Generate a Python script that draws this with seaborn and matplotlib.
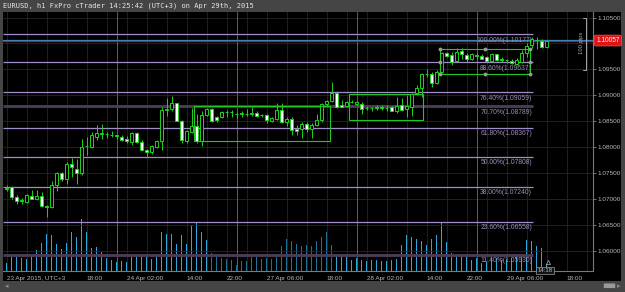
import numpy as np
import pandas as pd
import matplotlib
matplotlib.use("Agg")
import matplotlib.pyplot as plt
from matplotlib.patches import Rectangle, FancyBboxPatch
import seaborn as sns

# EURUSD h1 candles, 23 Apr 2015 02:00 -> 29 Apr 2015 14:00 (UTC+3)
opens = [1.0720, 1.0723, 1.0705, 1.0698, 1.0695, 1.0706, 1.0701, 1.0706, 1.0687, 1.0684,
         1.0727, 1.0750, 1.0738, 1.0768, 1.0759, 1.0750, 1.0802, 1.0800, 1.0820, 1.0825,
         1.0826, 1.0824, 1.0823, 1.0820, 1.0815, 1.0811, 1.0827, 1.0811, 1.0795, 1.0790,
         1.0801, 1.0812, 1.0872, 1.0874, 1.0885, 1.0851, 1.0812, 1.0830, 1.0841, 1.0812,
         1.0862, 1.0873, 1.0859, 1.0859, 1.0867, 1.0868, 1.0865, 1.0865, 1.0865, 1.0864,
         1.0866, 1.0862, 1.0862, 1.0851, 1.0854, 1.0872, 1.0848, 1.0854, 1.0836, 1.0836,
         1.0845, 1.0836, 1.0843, 1.0852, 1.0883, 1.0890, 1.0905, 1.0881, 1.0880, 1.0888,
         1.0883, 1.0884, 1.0876, 1.0875, 1.0876, 1.0877, 1.0876, 1.0878, 1.0870, 1.0881,
         1.0873, 1.0878, 1.0904, 1.0914, 1.0941, 1.0942, 1.0924, 1.0946, 1.0981, 1.0978,
         1.0966, 1.0985, 1.0978, 1.0971, 1.0977, 1.0976, 1.0974, 1.0966, 1.0979, 1.0971,
         1.0968, 1.0967, 1.0961, 1.0965, 1.0981, 1.0997, 1.1007, 1.1005, 1.0993]
highs = [1.0727, 1.0725, 1.0708, 1.0702, 1.0710, 1.0718, 1.0717, 1.0713, 1.0689, 1.0734,
         1.0753, 1.0753, 1.0772, 1.0780, 1.0777, 1.0815, 1.0820, 1.0830, 1.0843, 1.0844,
         1.0830, 1.0831, 1.0824, 1.0823, 1.0821, 1.0829, 1.0829, 1.0814, 1.0797, 1.0804,
         1.0814, 1.0878, 1.0895, 1.0899, 1.0886, 1.0852, 1.0833, 1.0875, 1.0865, 1.0869,
         1.0875, 1.0875, 1.0860, 1.0869, 1.0872, 1.0872, 1.0868, 1.0869, 1.0874, 1.0877,
         1.0869, 1.0865, 1.0865, 1.0859, 1.0885, 1.0885, 1.0858, 1.0858, 1.0843, 1.0849,
         1.0849, 1.0846, 1.0865, 1.0885, 1.0891, 1.0926, 1.0909, 1.0892, 1.0890, 1.0891,
         1.0890, 1.0888, 1.0879, 1.0878, 1.0881, 1.0881, 1.0881, 1.0879, 1.0897, 1.0894,
         1.0901, 1.0904, 1.0920, 1.0944, 1.0950, 1.0946, 1.0948, 1.0984, 1.0984, 1.0984,
         1.0991, 1.0991, 1.0981, 1.0981, 1.0981, 1.0979, 1.0976, 1.0981, 1.0980, 1.0974,
         1.0971, 1.0970, 1.0972, 1.0988, 1.1000, 1.1013, 1.1013, 1.1008, 1.1007]
lows = [1.0716, 1.0700, 1.0691, 1.0691, 1.0693, 1.0700, 1.0699, 1.0684, 1.0665, 1.0682,
        1.0716, 1.0734, 1.0730, 1.0742, 1.0730, 1.0746, 1.0785, 1.0798, 1.0814, 1.0816,
        1.0818, 1.0820, 1.0817, 1.0812, 1.0808, 1.0804, 1.0809, 1.0793, 1.0782, 1.0787,
        1.0799, 1.0795, 1.0861, 1.0869, 1.0850, 1.0808, 1.0809, 1.0827, 1.0808, 1.0803,
        1.0860, 1.0849, 1.0849, 1.0856, 1.0859, 1.0859, 1.0856, 1.0858, 1.0860, 1.0860,
        1.0859, 1.0859, 1.0846, 1.0849, 1.0852, 1.0847, 1.0840, 1.0824, 1.0824, 1.0817,
        1.0830, 1.0817, 1.0840, 1.0849, 1.0879, 1.0888, 1.0875, 1.0877, 1.0878, 1.0885,
        1.0880, 1.0865, 1.0872, 1.0869, 1.0872, 1.0872, 1.0869, 1.0869, 1.0866, 1.0869,
        1.0859, 1.0860, 1.0901, 1.0897, 1.0936, 1.0917, 1.0922, 1.0943, 1.0974, 1.0958,
        1.0965, 1.0971, 1.0965, 1.0968, 1.0971, 1.0970, 1.0965, 1.0965, 1.0966, 1.0965,
        1.0962, 1.0960, 1.0959, 1.0963, 1.0974, 1.0991, 1.0989, 1.0992, 1.0991]
closes = [1.0722, 1.0705, 1.0697, 1.0697, 1.0707, 1.0701, 1.0706, 1.0687, 1.0685, 1.0727,
          1.0751, 1.0738, 1.0768, 1.0761, 1.0750, 1.0801, 1.0802, 1.0824, 1.0827, 1.0827,
          1.0825, 1.0824, 1.0821, 1.0814, 1.0812, 1.0827, 1.0811, 1.0795, 1.0790, 1.0803,
          1.0812, 1.0872, 1.0874, 1.0885, 1.0851, 1.0814, 1.0832, 1.0840, 1.0812, 1.0862,
          1.0873, 1.0851, 1.0852, 1.0867, 1.0868, 1.0868, 1.0864, 1.0866, 1.0864, 1.0866,
          1.0861, 1.0862, 1.0852, 1.0856, 1.0872, 1.0849, 1.0854, 1.0833, 1.0832, 1.0845,
          1.0836, 1.0843, 1.0852, 1.0883, 1.0890, 1.0905, 1.0878, 1.0878, 1.0888, 1.0888,
          1.0888, 1.0874, 1.0876, 1.0875, 1.0877, 1.0876, 1.0875, 1.0870, 1.0880, 1.0872,
          1.0880, 1.0902, 1.0914, 1.0941, 1.0941, 1.0924, 1.0946, 1.0981, 1.0976, 1.0965,
          1.0984, 1.0979, 1.0971, 1.0979, 1.0976, 1.0971, 1.0966, 1.0979, 1.0968, 1.0968,
          1.0968, 1.0962, 1.0969, 1.0981, 1.0996, 1.1008, 1.1006, 1.0994, 1.10057]
volumes = [740, 1670, 1670, 1240, 1140, 1470, 2070, 2740, 3640, 3570,
           2640, 2170, 2770, 3900, 3400, 5150, 3900, 2300, 2400, 1900,
           1240, 1070, 900, 1000, 900, 1670, 1570, 1400, 1400, 1140,
           1640, 3900, 3640, 3700, 2670, 3570, 2670, 4570, 4840, 3900,
           3070, 1800, 1670, 1240, 1140, 1070, 570, 970, 970, 1470,
           1340, 1170, 1300, 1140, 1570, 2470, 3170, 2970, 2670, 2470,
           2570, 2440, 2940, 3340, 3900, 2570, 1670, 1440, 1420, 1070,
           1240, 1100, 970, 1100, 1040, 970, 970, 1070, 1140, 2570,
           3570, 3420, 3140, 3000, 2570, 3140, 3570, 4820, 2870, 1740,
           1640, 1570, 1470, 1070, 1240, 800, 900, 1240, 1300, 1070,
           1140, 1300, 1570, 1470, 3070, 2970, 2520, 2320, 670]

# time axis (bar index -> label)
tick_bars = [0, 16, 24, 36, 44, 52, 64, 72, 84, 92, 100, 112]
tick_labels = ["23 Apr 2015, UTC+3", "18:00", "24 Apr 02:00", "14:00", "22:00",
               "27 Apr 06:00", "18:00", "28 Apr 02:00", "14:00", "22:00",
               "29 Apr 06:00", "18:00"]
day_starts = [22, 46, 70, 94]

# fibonacci retracement levels
fib_pct = ["100.00%", "88.60%", "76.40%", "70.70%", "61.80%", "50.00%", "38.00%", "23.60%", "11.40%"]
fib_price = [1.10177, 1.09637, 1.09059, 1.08789, 1.08367, 1.07808, 1.07240, 1.06558, 1.05930]
fib_heavy = ["70.70%", "11.40%"]

price_ticks = [1.060, 1.065, 1.070, 1.075, 1.080, 1.085, 1.090, 1.095, 1.100, 1.105]
last_price = 1.10057
ask_line = 1.10064
bid_line = 1.10046
dim_volume = range(41, 66)

# drawn rectangles: (bar from, bar to, price low, price high)
boxes = [(37.5, 64.66, 1.08115, 1.08789),
         (68.52, 83.32, 1.08519, 1.09032),
         (86.66, 104.66, 1.09406, 1.09888)]

sns.set_theme(style="dark")
plt.rcParams["font.family"] = ["Liberation Sans", "DejaVu Sans"]

W, H = 625, 292
fig = plt.figure(figsize=(W / 100, H / 100), dpi=100, facecolor="#454545")

# black chart panel below the title bar
fig.patches.append(Rectangle((3 / W, (H - 281) / H), 618 / W, 269 / H,
                             transform=fig.transFigure, facecolor="black",
                             edgecolor="none", zorder=-1))
fig.text(3 / W, 1 - 6 / H, "EURUSD, h1 FxPro cTrader 14:25:42 (UTC+3) on Apr 29th, 2015",
         color="#e6e6e6", fontsize=5, family="DejaVu Sans Mono", va="center")

pos = [3 / W, (H - 270.7) / H, 590 / W, 258.7 / H]
xlim = (-0.74, 117.26)
ylim = (1.05620, 1.10607)
green = "#1ed21e"

# volume histogram underneath
axv = fig.add_axes(pos)
idx = np.arange(len(volumes))
vol_df = pd.DataFrame({"bar": idx, "volume": volumes,
                       "shade": ["dim" if i in dim_volume else "lit" for i in idx]})
sns.barplot(data=vol_df, x="bar", y="volume", hue="shade", native_scale=True,
            palette={"lit": "#2aa8e0", "dim": "#1c7399"}, dodge=False, width=0.28,
            saturation=1, errorbar=None, legend=False, linewidth=0, ax=axv)
axv.set_xlim(*xlim)
axv.set_ylim(0, 25870)
axv.axis("off")

ax = fig.add_axes(pos)
ax.set_facecolor("none")
ax.grid(False)
ax.set_xlim(*xlim)
ax.set_ylim(*ylim)

# grid
for g in range(0, 118, 4):
    ax.axvline(g, color="#262626", lw=0.6, zorder=0.5)
for p in price_ticks:
    ax.axhline(p, color="#262626", lw=0.6, zorder=0.5)
for d in day_starts:
    ax.axvline(d, color="#5e5e5e", lw=0.7, zorder=0.6)

# fibonacci lines and labels
for pct, p in zip(fib_pct, fib_price):
    if pct in fib_heavy:
        ax.hlines(p, xlim[0], 105.33, color="#4a3b57", lw=2.1, zorder=1)
    else:
        ax.hlines(p, xlim[0], 105.33, color="#a08cc8", lw=0.9, zorder=1)
    ax.annotate(f"{pct}({p:.5f})", xy=(105.06, p), xytext=(0, -1.6),
                textcoords="offset points", ha="right", va="top",
                color="#9c8eb8", fontsize=4.9, zorder=6)

# current price lines
ax.axhline(ask_line, color="#2a8fd0", lw=0.9, zorder=2)
ax.axhline(bid_line, color="#d41414", lw=0.9, zorder=2)

# candles
o = np.array(opens); c = np.array(closes)
ax.vlines(idx, lows, highs, color=green, lw=0.7, zorder=3)
up = c >= o
ax.bar(idx[up], (c - o)[up], bottom=o[up], width=0.62, facecolor="black",
       edgecolor=green, linewidth=0.7, zorder=4)
ax.bar(idx[~up], (o - c)[~up], bottom=c[~up], width=0.62, facecolor="white",
       edgecolor=green, linewidth=0.7, zorder=4)

# drawn rectangles and selection handles
for x0, x1, p0, p1 in boxes:
    ax.add_patch(Rectangle((x0, p0), x1 - x0, p1 - p0, fill=False,
                           edgecolor="#22c822", lw=0.8, zorder=5))
x0, x1, p0, p1 = boxes[2]
hx = [x0, (x0 + x1) / 2, x1, x0, x1, x0, (x0 + x1) / 2, x1]
hy = [p1, p1, p1, fib_price[1], fib_price[1], p0, p0, p0]
ax.plot(hx, hy, "o", ms=2.8, color="#9a9a9a", mec="none", zorder=7)

# 100 pips ruler
ax.plot([115.3, 115.86, 115.86, 115.3], [1.10485, 1.10485, 1.09489, 1.09489],
        color="#a8a8a8", lw=0.7, zorder=6, clip_on=False)
ax.text(114.95, 1.10019, "100 pips", rotation=90, ha="center", va="center",
        color="#a8a8a8", fontsize=4.2, zorder=6)

# axes styling
ax.yaxis.tick_right()
ax.set_yticks(price_ticks)
ax.set_yticklabels(["" if abs(p - 1.1) < 1e-9 else f"{p:.5f}" for p in price_ticks])
ax.set_xticks(tick_bars)
ax.set_xticklabels(tick_labels, ha="left")
ax.tick_params(axis="both", colors="#8a8a8a", labelcolor="#b8b8b8", labelsize=4.6,
               length=2, width=0.6, pad=1.5)
for s in ["left", "top"]:
    ax.spines[s].set_visible(False)
for s in ["right", "bottom"]:
    ax.spines[s].set_color("#7a7a7a")
    ax.spines[s].set_linewidth(0.8)

# last price tag
ax.annotate(f"{last_price:.5f}", xy=(1, last_price), xycoords=("axes fraction", "data"),
            xytext=(2.2, 0), textcoords="offset points", ha="left", va="center",
            color="white", fontsize=4.7, zorder=10, annotation_clip=False,
            bbox=dict(boxstyle="round,pad=0.3", fc="#e01414", ec="#ff5050", lw=0.5))

# time cursor tag
ax.plot([108.2], [0.035], marker="^", ms=3, mfc="black", mec="#b0b0b0", mew=0.5,
        transform=ax.get_xaxis_transform(), clip_on=False, zorder=9)
ax.annotate("14:18", xy=(107.7, 0.0), xycoords=("data", "axes fraction"),
            ha="center", va="center", color="#c0c0c0", fontsize=4.3, zorder=10,
            annotation_clip=False,
            bbox=dict(boxstyle="square,pad=0.2", fc="#141414", ec="#9a9a9a", lw=0.5))

# scroll bar bits along the bottom edge
fig.patches.append(FancyBboxPatch((605 / W, 4.5 / H), 9 / W, 3.5 / H,
                                  boxstyle="round,pad=0.002", transform=fig.transFigure,
                                  facecolor="#9a9a9a", edgecolor="none"))
fig.text(5 / W, 5.5 / H, "\u25c2", color="#8a8a8a", fontsize=5, va="center",
         family="DejaVu Sans")
fig.text(617 / W, 5.5 / H, "\u25b8", color="#8a8a8a", fontsize=5, va="center",
         family="DejaVu Sans")

fig.savefig("out.png", dpi=100, facecolor=fig.get_facecolor())
